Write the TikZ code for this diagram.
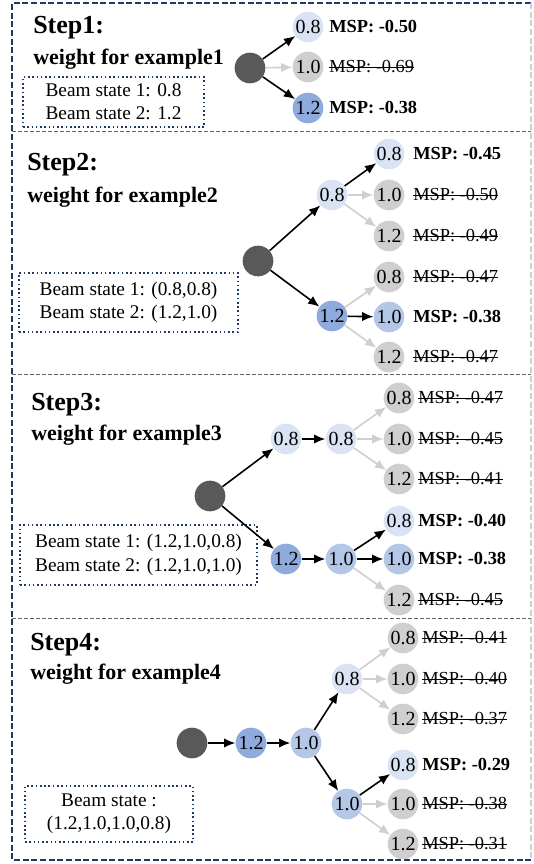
\documentclass[tikz,border=0pt]{standalone}
\usepackage{fontspec}
\setmainfont{Liberation Serif}
\usetikzlibrary{arrows.meta}
\definecolor{framenavy}{HTML}{203864}
\definecolor{rootgray}{HTML}{595959}
\definecolor{paleblue}{HTML}{DAE3F3}
\definecolor{midblue}{HTML}{B4C7E7}
\definecolor{deepblue}{HTML}{8FAADC}
\definecolor{cutgray}{HTML}{D0CECE}
\definecolor{linegray}{HTML}{D0CECE}
\newlength{\dropwd}
\newcommand{\mspkeep}[1]{\textbf{MSP: #1}}
\newcommand{\mspdrop}[1]{\settowidth{\dropwd}{MSP: #1}\rlap{MSP: #1}\rule[0.3em]{\dropwd}{0.7pt}}
\begin{document}
\begin{tikzpicture}[x=0.75pt,y=-0.75pt]
    \tikzstyle{node}=[circle, minimum size=23pt, inner sep=0pt, font=\fontsize{15}{16}\selectfont]
    \tikzstyle{root}=[node, fill=rootgray]
    \tikzstyle{pale}=[node, fill=paleblue]
    \tikzstyle{mid}=[node, fill=midblue]
    \tikzstyle{deep}=[node, fill=deepblue]
    \tikzstyle{cut}=[node, fill=cutgray]
    \tikzstyle{go}=[draw=black, line width=1.2pt, -{Latex[length=8.5pt,width=7pt]}]
    \tikzstyle{no}=[go, draw=linegray]
    \tikzstyle{msp}=[anchor=west, inner sep=0pt, font=\fontsize{13.8}{16}\selectfont]
    \tikzstyle{title}=[anchor=west, inner sep=0pt, font=\bfseries\fontsize{19.5}{22}\selectfont]
    \tikzstyle{sub}=[anchor=west, inner sep=0pt, font=\bfseries\fontsize{16.5}{20}\selectfont]
    \tikzstyle{beam}=[draw=framenavy, dotted, line width=1.2pt, align=center, inner sep=0pt, font=\fontsize{14.5}{17.5}\selectfont]
    \tikzstyle{sep}=[draw=gray!80!black, line width=0.6pt, dash pattern=on 3pt off 1.5pt]

    \useasboundingbox (0,0) rectangle (533,864);

    \draw[framenavy, line width=1.2pt, dash pattern=on 4.5pt off 2pt] (531,3) -- (12,3) -- (12,860) -- (531,860);
    \draw[linegray, line width=1.2pt, dash pattern=on 4.5pt off 2pt] (531,3) -- (531,860);
    \draw[sep] (12,131) -- (531,131);
    \draw[sep] (12,374) -- (531,374);
    \draw[sep] (12,618) -- (531,618);

    \node[title] (t1) at (33,28) {Step1:};
    \node[sub] (w1) at (33,59) {weight for example1};
    \node[beam, minimum width=135.75pt, minimum height=37.5pt] (bs1) at (113.5,102) {Beam state 1: 0.8\\Beam state 2: 1.2};

    \node[root] (r1) at (250,68) {};
    \node[pale] (s1a) at (308,27) {0.8};
    \node[cut] (s1b) at (308,67) {1.0};
    \node[deep] (s1c) at (308,108) {1.2};
    \node[msp] (m1a) at (329,27) {\mspkeep{-0.50}};
    \node[msp] (m1b) at (329,67) {\mspdrop{-0.69}};
    \node[msp] (m1c) at (329,108) {\mspkeep{-0.38}};

    \path (r1) edge[go] (s1a);
    \path (r1) edge[no] (s1b);
    \path (r1) edge[go] (s1c);

    \node[title] (t2) at (27,165) {Step2:};
    \node[sub] (w2) at (27,197) {weight for example2};
    \node[beam, minimum width=164.25pt, minimum height=44.25pt] (bs2) at (128.5,302.5) {Beam state 1: (0.8,0.8)\\Beam state 2: (1.2,1.0)};

    \node[root] (r2) at (258,261) {};
    \node[pale] (s2a) at (332,195) {0.8};
    \node[deep] (s2b) at (332,316) {1.2};
    \node[pale] (s2aa) at (389,154) {0.8};
    \node[cut] (s2ab) at (389,195) {1.0};
    \node[cut] (s2ac) at (389,236) {1.2};
    \node[cut] (s2ba) at (389,277) {0.8};
    \node[mid] (s2bb) at (389,317) {1.0};
    \node[cut] (s2bc) at (389,357) {1.2};
    \node[msp] (m2aa) at (413,154) {\mspkeep{-0.45}};
    \node[msp] (m2ab) at (413,195) {\mspdrop{-0.50}};
    \node[msp] (m2ac) at (413,236) {\mspdrop{-0.49}};
    \node[msp] (m2ba) at (413,277) {\mspdrop{-0.47}};
    \node[msp] (m2bb) at (413,317) {\mspkeep{-0.38}};
    \node[msp] (m2bc) at (413,357) {\mspdrop{-0.47}};

    \path (r2) edge[go] (s2a);
    \path (r2) edge[go] (s2b);
    \path (s2a) edge[go] (s2aa);
    \path (s2a) edge[no] (s2ab);
    \path (s2a) edge[no] (s2ac);
    \path (s2b) edge[no] (s2ba);
    \path (s2b) edge[go] (s2bb);
    \path (s2b) edge[no] (s2bc);

    \node[title] (t3) at (31,405) {Step3:};
    \node[sub] (w3) at (31,435) {weight for example3};
    \node[beam, minimum width=177.75pt, minimum height=45pt] (bs3) at (138.5,555) {Beam state 1: (1.2,1.0,0.8)\\Beam state 2: (1.2,1.0,1.0)};

    \node[root] (r3) at (210,496) {};
    \node[pale] (s3a) at (286,439) {0.8};
    \node[pale] (s3aa) at (341,439) {0.8};
    \node[deep] (s3b) at (286,559) {1.2};
    \node[mid] (s3bb) at (341,559) {1.0};
    \node[cut] (s3x1) at (399,398) {0.8};
    \node[cut] (s3x2) at (399,439) {1.0};
    \node[cut] (s3x3) at (399,479) {1.2};
    \node[pale] (s3y1) at (399,521) {0.8};
    \node[mid] (s3y2) at (399,559) {1.0};
    \node[cut] (s3y3) at (399,600) {1.2};
    \node[msp] (m3x1) at (418,398) {\mspdrop{-0.47}};
    \node[msp] (m3x2) at (418,439) {\mspdrop{-0.45}};
    \node[msp] (m3x3) at (418,479) {\mspdrop{-0.41}};
    \node[msp] (m3y1) at (418,521) {\mspkeep{-0.40}};
    \node[msp] (m3y2) at (418,559) {\mspkeep{-0.38}};
    \node[msp] (m3y3) at (418,600) {\mspdrop{-0.45}};

    \path (r3) edge[go] (s3a);
    \path (s3a) edge[go] (s3aa);
    \path (s3aa) edge[no] (s3x1);
    \path (s3aa) edge[no] (s3x2);
    \path (s3aa) edge[no] (s3x3);
    \path (r3) edge[go] (s3b);
    \path (s3b) edge[go] (s3bb);
    \path (s3bb) edge[go] (s3y1);
    \path (s3bb) edge[go] (s3y2);
    \path (s3bb) edge[no] (s3y3);

    \node[title] (t4) at (30,645) {Step4:};
    \node[sub] (w4) at (30,674) {weight for example4};
    \node[beam, minimum width=126pt, minimum height=42pt] (bs4) at (109,814) {Beam state :\\(1.2,1.0,1.0,0.8)};

    \node[root] (r4) at (192,743) {};
    \node[deep] (s4a) at (251,743) {1.2};
    \node[mid] (s4b) at (306,743) {1.0};
    \node[pale] (s4c) at (347,679) {0.8};
    \node[mid] (s4d) at (347,804) {1.0};
    \node[cut] (s4x1) at (403,638) {0.8};
    \node[cut] (s4x2) at (403,679) {1.0};
    \node[cut] (s4x3) at (403,719) {1.2};
    \node[pale] (s4y1) at (403,765) {0.8};
    \node[cut] (s4y2) at (403,804) {1.0};
    \node[cut] (s4y3) at (403,844) {1.2};
    \node[msp] (m4x1) at (422,638) {\mspdrop{-0.41}};
    \node[msp] (m4x2) at (422,679) {\mspdrop{-0.40}};
    \node[msp] (m4x3) at (422,719) {\mspdrop{-0.37}};
    \node[msp] (m4y1) at (422,765) {\mspkeep{-0.29}};
    \node[msp] (m4y2) at (422,804) {\mspdrop{-0.38}};
    \node[msp] (m4y3) at (422,844) {\mspdrop{-0.31}};

    \path (r4) edge[go] (s4a);
    \path (s4a) edge[go] (s4b);
    \path (s4b) edge[go] (s4c);
    \path (s4b) edge[go] (s4d);
    \path (s4c) edge[no] (s4x1);
    \path (s4c) edge[no] (s4x2);
    \path (s4c) edge[no] (s4x3);
    \path (s4d) edge[go] (s4y1);
    \path (s4d) edge[no] (s4y2);
    \path (s4d) edge[no] (s4y3);
  \end{tikzpicture}
\end{document}
